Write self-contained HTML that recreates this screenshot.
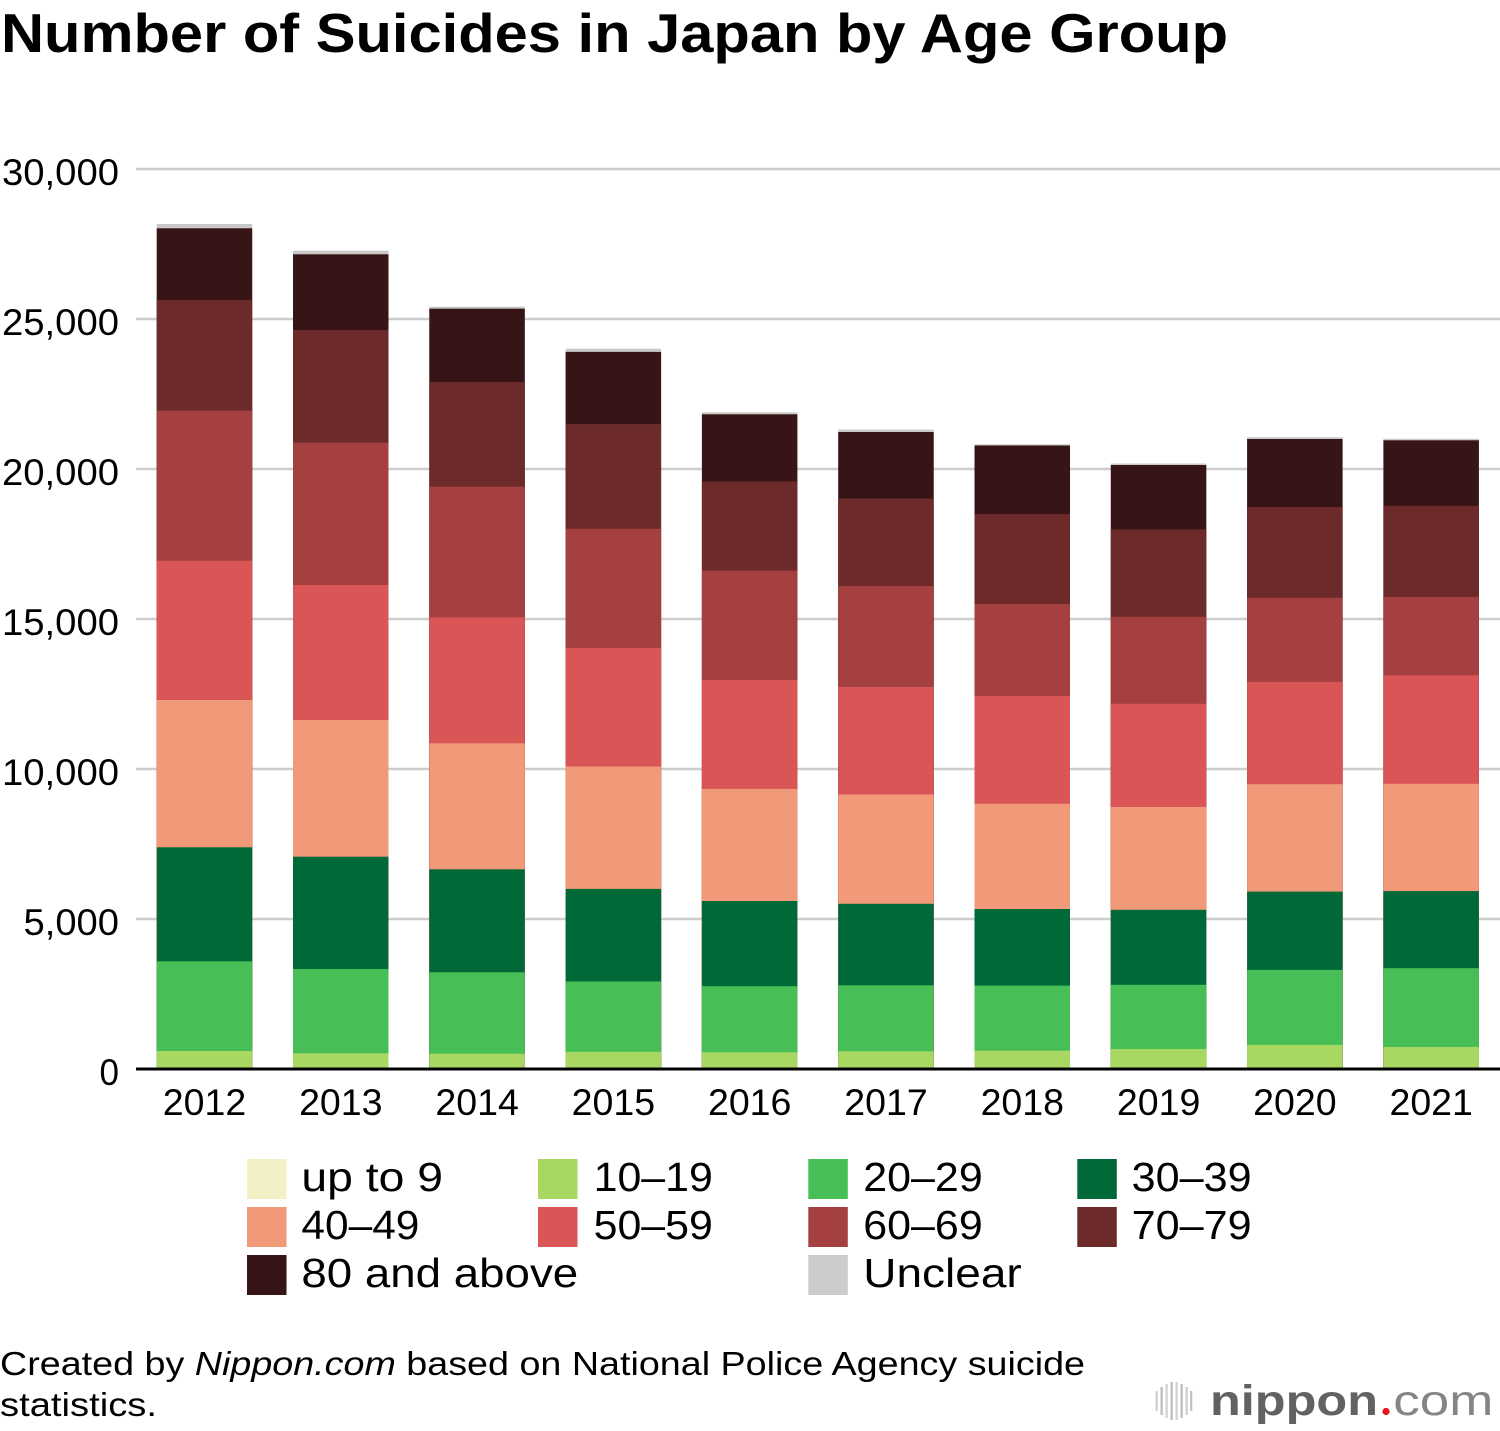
<!DOCTYPE html>
<html>
<head>
<meta charset="utf-8">
<style>
  html, body { margin: 0; padding: 0; background: #ffffff; }
  svg { display: block; }
  text { font-family: "Liberation Sans", Arial, sans-serif; fill: #000; }
</style>
</head>
<body>
<svg width="1500" height="1431" viewBox="0 0 1500 1431" xmlns="http://www.w3.org/2000/svg">
  <rect x="0" y="0" width="1500" height="1431" fill="#ffffff"/>

  <!-- Title -->
  <text x="1" y="52" font-size="55" font-weight="bold" textLength="1227" lengthAdjust="spacingAndGlyphs">Number of Suicides in Japan by Age Group</text>

  <!-- Gridlines -->
  <g stroke="#cdcdcd" stroke-width="2.5">
    <line x1="136" y1="169" x2="1500" y2="169"/>
    <line x1="136" y1="319" x2="1500" y2="319"/>
    <line x1="136" y1="469" x2="1500" y2="469"/>
    <line x1="136" y1="619" x2="1500" y2="619"/>
    <line x1="136" y1="769" x2="1500" y2="769"/>
    <line x1="136" y1="919" x2="1500" y2="919"/>
  </g>

  <!-- Y labels -->
  <g font-size="37.5" text-anchor="end">
    <text x="119" y="185" textLength="117" lengthAdjust="spacingAndGlyphs">30,000</text>
    <text x="119" y="335" textLength="117" lengthAdjust="spacingAndGlyphs">25,000</text>
    <text x="119" y="485" textLength="117" lengthAdjust="spacingAndGlyphs">20,000</text>
    <text x="119" y="635" textLength="117" lengthAdjust="spacingAndGlyphs">15,000</text>
    <text x="119" y="785" textLength="117" lengthAdjust="spacingAndGlyphs">10,000</text>
    <text x="119" y="935" textLength="95.5" lengthAdjust="spacingAndGlyphs">5,000</text>
    <text x="119" y="1085" textLength="19.5" lengthAdjust="spacingAndGlyphs">0</text>
  </g>

  <!-- Bars -->
  <!-- 2012 -->
  <g>
    <rect x="156.7" y="224" width="95.5" height="844" fill="#c8c8c8"/>
    <rect x="156.7" y="228.3" width="95.5" height="839.7" fill="#371516"/>
    <rect x="156.7" y="300" width="95.5" height="768" fill="#6d2a2b"/>
    <rect x="156.7" y="410.7" width="95.5" height="657.3" fill="#a44040"/>
    <rect x="156.7" y="560.7" width="95.5" height="507.3" fill="#d95556"/>
    <rect x="156.7" y="700" width="95.5" height="368" fill="#f09a79"/>
    <rect x="156.7" y="847.3" width="95.5" height="220.7" fill="#006937"/>
    <rect x="156.7" y="961.3" width="95.5" height="106.7" fill="#48bf56"/>
    <rect x="156.7" y="1051" width="95.5" height="17" fill="#a9d862"/>
  </g>
  <!-- 2013 -->
  <g>
    <rect x="293" y="250.7" width="95.5" height="817.3" fill="#c8c8c8"/>
    <rect x="293" y="254.3" width="95.5" height="813.7" fill="#371516"/>
    <rect x="293" y="330" width="95.5" height="738" fill="#6d2a2b"/>
    <rect x="293" y="442.7" width="95.5" height="625.3" fill="#a44040"/>
    <rect x="293" y="585" width="95.5" height="483" fill="#d95556"/>
    <rect x="293" y="720" width="95.5" height="348" fill="#f09a79"/>
    <rect x="293" y="856.7" width="95.5" height="211.3" fill="#006937"/>
    <rect x="293" y="969" width="95.5" height="99" fill="#48bf56"/>
    <rect x="293" y="1053.3" width="95.5" height="14.7" fill="#a9d862"/>
  </g>
  <!-- 2014 -->
  <g>
    <rect x="429.3" y="306.7" width="95.5" height="761.3" fill="#c8c8c8"/>
    <rect x="429.3" y="308.7" width="95.5" height="759.3" fill="#371516"/>
    <rect x="429.3" y="382" width="95.5" height="686" fill="#6d2a2b"/>
    <rect x="429.3" y="486.7" width="95.5" height="581.3" fill="#a44040"/>
    <rect x="429.3" y="617.3" width="95.5" height="450.7" fill="#d95556"/>
    <rect x="429.3" y="743.3" width="95.5" height="324.7" fill="#f09a79"/>
    <rect x="429.3" y="869.3" width="95.5" height="198.7" fill="#006937"/>
    <rect x="429.3" y="972.3" width="95.5" height="95.7" fill="#48bf56"/>
    <rect x="429.3" y="1053.7" width="95.5" height="14.3" fill="#a9d862"/>
  </g>
  <!-- 2015 -->
  <g>
    <rect x="565.6" y="348.7" width="95.5" height="719.3" fill="#c8c8c8"/>
    <rect x="565.6" y="351.9" width="95.5" height="716.1" fill="#371516"/>
    <rect x="565.6" y="424.1" width="95.5" height="643.9" fill="#6d2a2b"/>
    <rect x="565.6" y="528.8" width="95.5" height="539.2" fill="#a44040"/>
    <rect x="565.6" y="647.9" width="95.5" height="420.1" fill="#d95556"/>
    <rect x="565.6" y="766.5" width="95.5" height="301.5" fill="#f09a79"/>
    <rect x="565.6" y="888.9" width="95.5" height="179.1" fill="#006937"/>
    <rect x="565.6" y="981.5" width="95.5" height="86.5" fill="#48bf56"/>
    <rect x="565.6" y="1051.8" width="95.5" height="16.2" fill="#a9d862"/>
  </g>
  <!-- 2016 -->
  <g>
    <rect x="701.9" y="412.4" width="95.5" height="655.6" fill="#c8c8c8"/>
    <rect x="701.9" y="414.3" width="95.5" height="653.7" fill="#371516"/>
    <rect x="701.9" y="481.3" width="95.5" height="586.7" fill="#6d2a2b"/>
    <rect x="701.9" y="570.6" width="95.5" height="497.4" fill="#a44040"/>
    <rect x="701.9" y="680" width="95.5" height="388" fill="#d95556"/>
    <rect x="701.9" y="788.9" width="95.5" height="279.1" fill="#f09a79"/>
    <rect x="701.9" y="901" width="95.5" height="167" fill="#006937"/>
    <rect x="701.9" y="986.2" width="95.5" height="81.8" fill="#48bf56"/>
    <rect x="701.9" y="1052.3" width="95.5" height="15.7" fill="#a9d862"/>
  </g>
  <!-- 2017 -->
  <g>
    <rect x="838.2" y="429.6" width="95.5" height="638.4" fill="#c8c8c8"/>
    <rect x="838.2" y="432" width="95.5" height="636" fill="#371516"/>
    <rect x="838.2" y="498.5" width="95.5" height="569.5" fill="#6d2a2b"/>
    <rect x="838.2" y="586" width="95.5" height="482" fill="#a44040"/>
    <rect x="838.2" y="687" width="95.5" height="381" fill="#d95556"/>
    <rect x="838.2" y="794.5" width="95.5" height="273.5" fill="#f09a79"/>
    <rect x="838.2" y="903.8" width="95.5" height="164.2" fill="#006937"/>
    <rect x="838.2" y="985.3" width="95.5" height="82.7" fill="#48bf56"/>
    <rect x="838.2" y="1051.3" width="95.5" height="16.7" fill="#a9d862"/>
  </g>
  <!-- 2018 -->
  <g>
    <rect x="974.5" y="444.3" width="95.5" height="623.7" fill="#c8c8c8"/>
    <rect x="974.5" y="445.5" width="95.5" height="622.5" fill="#371516"/>
    <rect x="974.5" y="514.1" width="95.5" height="553.9" fill="#6d2a2b"/>
    <rect x="974.5" y="604" width="95.5" height="464" fill="#a44040"/>
    <rect x="974.5" y="696" width="95.5" height="372" fill="#d95556"/>
    <rect x="974.5" y="803.7" width="95.5" height="264.3" fill="#f09a79"/>
    <rect x="974.5" y="909" width="95.5" height="159" fill="#006937"/>
    <rect x="974.5" y="985.6" width="95.5" height="82.4" fill="#48bf56"/>
    <rect x="974.5" y="1050.7" width="95.5" height="17.3" fill="#a9d862"/>
  </g>
  <!-- 2019 -->
  <g>
    <rect x="1110.8" y="463.5" width="95.5" height="604.5" fill="#c8c8c8"/>
    <rect x="1110.8" y="465" width="95.5" height="603" fill="#371516"/>
    <rect x="1110.8" y="529.4" width="95.5" height="538.6" fill="#6d2a2b"/>
    <rect x="1110.8" y="616.8" width="95.5" height="451.2" fill="#a44040"/>
    <rect x="1110.8" y="703.8" width="95.5" height="364.2" fill="#d95556"/>
    <rect x="1110.8" y="807" width="95.5" height="261" fill="#f09a79"/>
    <rect x="1110.8" y="909.8" width="95.5" height="158.2" fill="#006937"/>
    <rect x="1110.8" y="984.8" width="95.5" height="83.2" fill="#48bf56"/>
    <rect x="1110.8" y="1049" width="95.5" height="19" fill="#a9d862"/>
  </g>
  <!-- 2020 -->
  <g>
    <rect x="1247.1" y="437.2" width="95.5" height="630.8" fill="#c8c8c8"/>
    <rect x="1247.1" y="439" width="95.5" height="629" fill="#371516"/>
    <rect x="1247.1" y="507" width="95.5" height="561" fill="#6d2a2b"/>
    <rect x="1247.1" y="597.8" width="95.5" height="470.2" fill="#a44040"/>
    <rect x="1247.1" y="681.9" width="95.5" height="386.1" fill="#d95556"/>
    <rect x="1247.1" y="784.2" width="95.5" height="283.8" fill="#f09a79"/>
    <rect x="1247.1" y="891.6" width="95.5" height="176.4" fill="#006937"/>
    <rect x="1247.1" y="969.9" width="95.5" height="98.1" fill="#48bf56"/>
    <rect x="1247.1" y="1044.9" width="95.5" height="23.1" fill="#a9d862"/>
  </g>
  <!-- 2021 -->
  <g>
    <rect x="1383.4" y="438.8" width="95.5" height="629.2" fill="#c8c8c8"/>
    <rect x="1383.4" y="440.3" width="95.5" height="627.7" fill="#371516"/>
    <rect x="1383.4" y="505.8" width="95.5" height="562.2" fill="#6d2a2b"/>
    <rect x="1383.4" y="596.9" width="95.5" height="471.1" fill="#a44040"/>
    <rect x="1383.4" y="675.3" width="95.5" height="392.7" fill="#d95556"/>
    <rect x="1383.4" y="783.8" width="95.5" height="284.2" fill="#f09a79"/>
    <rect x="1383.4" y="891.1" width="95.5" height="176.9" fill="#006937"/>
    <rect x="1383.4" y="968.2" width="95.5" height="99.8" fill="#48bf56"/>
    <rect x="1383.4" y="1047" width="95.5" height="21" fill="#a9d862"/>
  </g>

  <!-- X axis -->
  <rect x="136" y="1067.5" width="1364" height="3" fill="#000000"/>

  <!-- Year labels -->
  <g font-size="37.5" text-anchor="middle">
    <text x="204.5" y="1115">2012</text>
    <text x="340.8" y="1115">2013</text>
    <text x="477.1" y="1115">2014</text>
    <text x="613.4" y="1115">2015</text>
    <text x="749.7" y="1115">2016</text>
    <text x="886" y="1115">2017</text>
    <text x="1022.3" y="1115">2018</text>
    <text x="1158.6" y="1115">2019</text>
    <text x="1294.9" y="1115">2020</text>
    <text x="1431.2" y="1115">2021</text>
  </g>

  <!-- Legend swatches -->
  <rect x="247" y="1159" width="39.5" height="40" fill="#f3efc6"/>
  <rect x="538" y="1159" width="39.5" height="40" fill="#a9d862"/>
  <rect x="808.3" y="1159" width="39.5" height="40" fill="#48bf56"/>
  <rect x="1077.3" y="1159" width="39.5" height="40" fill="#006937"/>
  <rect x="247" y="1207" width="39.5" height="40" fill="#f09a79"/>
  <rect x="538" y="1207" width="39.5" height="40" fill="#d95556"/>
  <rect x="808.3" y="1207" width="39.5" height="40" fill="#a44040"/>
  <rect x="1077.3" y="1207" width="39.5" height="40" fill="#6d2a2b"/>
  <rect x="247" y="1255" width="39.5" height="40" fill="#371516"/>
  <rect x="808.3" y="1255" width="39.5" height="40" fill="#cccccc"/>

  <!-- Legend labels -->
  <g font-size="41">
    <text x="301.4" y="1191" textLength="141.6" lengthAdjust="spacingAndGlyphs">up to 9</text>
    <text x="593.6" y="1191" textLength="119.3" lengthAdjust="spacingAndGlyphs">10–19</text>
    <text x="863.3" y="1191" textLength="119.4" lengthAdjust="spacingAndGlyphs">20–29</text>
    <text x="1131.7" y="1191" textLength="120" lengthAdjust="spacingAndGlyphs">30–39</text>
    <text x="301.4" y="1239" textLength="118" lengthAdjust="spacingAndGlyphs">40–49</text>
    <text x="593.6" y="1239" textLength="119.3" lengthAdjust="spacingAndGlyphs">50–59</text>
    <text x="863.3" y="1239" textLength="119.4" lengthAdjust="spacingAndGlyphs">60–69</text>
    <text x="1131.7" y="1239" textLength="120" lengthAdjust="spacingAndGlyphs">70–79</text>
    <text x="301.4" y="1287" textLength="276.8" lengthAdjust="spacingAndGlyphs">80 and above</text>
    <text x="863.3" y="1287" textLength="158.4" lengthAdjust="spacingAndGlyphs">Unclear</text>
  </g>

  <!-- Footer -->
  <text x="0" y="1375" font-size="33" textLength="1085" lengthAdjust="spacingAndGlyphs">Created by <tspan font-style="italic">Nippon.com</tspan> based on National Police Agency suicide</text>
  <text x="0" y="1416" font-size="33" textLength="157" lengthAdjust="spacingAndGlyphs">statistics.</text>

  <!-- Logo -->
  <g>
    <rect x="1155.5" y="1391" width="2.3" height="20" fill="#cfcfcf"/>
    <rect x="1160.5" y="1387" width="2.3" height="28" fill="#bdbdbd"/>
    <rect x="1165.5" y="1384" width="2.3" height="34" fill="#d3d3d3"/>
    <rect x="1170.5" y="1382" width="2.3" height="38" fill="#bdbdbd"/>
    <rect x="1175.5" y="1382" width="2.3" height="38" fill="#d3d3d3"/>
    <rect x="1180.5" y="1384" width="2.3" height="34" fill="#bdbdbd"/>
    <rect x="1185.5" y="1387" width="2.3" height="28" fill="#cfcfcf"/>
    <rect x="1190" y="1391" width="2.3" height="20" fill="#c4c4c4"/>
  </g>
  <text x="1210" y="1415" font-size="43" font-weight="bold" textLength="168" lengthAdjust="spacingAndGlyphs" style="fill:#626262">nippon</text>
  <circle cx="1386" cy="1411.5" r="3.6" fill="#e8141c"/>
  <text x="1393.3" y="1415" font-size="43" textLength="100" lengthAdjust="spacingAndGlyphs" style="fill:#858585">com</text>
</svg>
</body>
</html>
